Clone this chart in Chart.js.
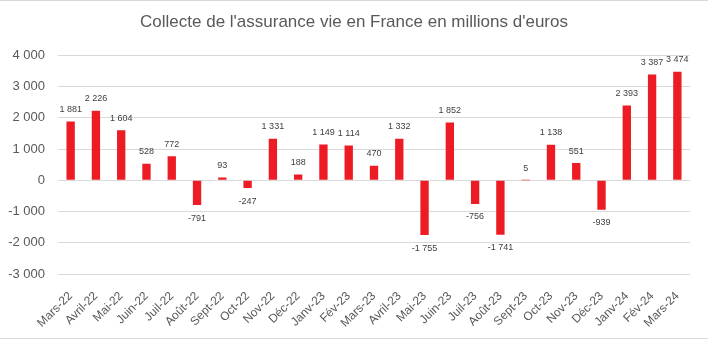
<!DOCTYPE html>
<html>
<head>
<meta charset="utf-8">
<script src="https://cdn.jsdelivr.net/npm/chart.js@4"></script>
<style>
  html, body { margin: 0; padding: 0; background: #fff; }
  #wrap { width: 708px; height: 339px; box-sizing: border-box; border-top: 1px solid #d9d9d9; border-bottom: 1px solid #d9d9d9; }
  canvas { display: block; }
</style>
</head>
<body>
<div id="wrap"><canvas id="barChart" width="708" height="337"></canvas></div>
<script>
// mois
const months = ['Mars-22', 'Avril-22', 'Mai-22', 'Juin-22', 'Juil-22', 'Août-22', 'Sept-22', 'Oct-22',
    'Nov-22', 'Déc-22', 'Janv-23', 'Fév-23', 'Mars-23', 'Avril-23', 'Mai-23', 'Juin-23', 'Juil-23',
    'Août-23', 'Sept-23', 'Oct-23', 'Nov-23', 'Déc-23', 'Janv-24', 'Fév-24', 'Mars-24'];
// collecte nette (millions d'euros)
const collecte = [1881, 2226, 1604, 528, 772, -791, 93, -247, 1331, 188, 1149, 1114, 470, 1332,
    -1755, 1852, -756, -1741, 5, 1138, 551, -939, 2393, 3387, 3474];
const yTicks = [-3000, -2000, -1000, 0, 1000, 2000, 3000, 4000];

const fmt = v => {
    const s = Math.abs(v).toString().replace(/\B(?=(\d{3})+(?!\d))/g, ' ');
    return (v < 0 ? '-' : '') + s;
};

// étiquettes de valeurs au-dessus / en dessous des barres
const valueLabels = {
    id: 'valueLabels',
    afterDatasetsDraw(chart) {
        const ctx = chart.ctx;
        const meta = chart.getDatasetMeta(0);
        ctx.save();
        ctx.font = '9px "Liberation Sans", sans-serif';
        ctx.fillStyle = '#404040';
        ctx.textAlign = 'center';
        ctx.textBaseline = 'middle';
        meta.data.forEach((bar, i) => {
            const v = collecte[i];
            const y = v >= 0 ? bar.y - 12 : bar.y + 13;
            ctx.fillText(fmt(v), bar.x, y);
        });
        ctx.restore();
    }
};

// titre centré sur toute la largeur du canvas
const centerTitle = {
    id: 'centerTitle',
    afterLayout(chart) {
        if (chart.titleBlock) {
            chart.titleBlock.left = 0;
            chart.titleBlock.right = chart.width;
        }
    }
};

new Chart(document.getElementById('barChart'), {
    type: 'bar',
    data: {
        labels: months,
        datasets: [{
            data: collecte,
            backgroundColor: '#ED1C24',
            borderWidth: 0,
            barPercentage: 0.33,
            categoryPercentage: 1
        }]
    },
    options: {
        responsive: false,
        animation: false,
        layout: { padding: { left: 0, right: 18, top: 0, bottom: 0 } },
        plugins: {
            legend: { display: false },
            tooltip: { enabled: false },
            title: {
                display: true,
                text: "Collecte de l'assurance vie en France en millions d'euros",
                color: '#595959',
                font: { family: '"Liberation Sans", sans-serif', size: 17, weight: 'normal' },
                padding: { top: 11, bottom: 23 }
            }
        },
        scales: {
            x: {
                grid: { display: false },
                border: { display: false },
                ticks: {
                    color: '#595959',
                    font: { family: '"Liberation Sans", sans-serif', size: 12 },
                    minRotation: 45,
                    maxRotation: 45,
                    autoSkip: false,
                    padding: 7
                },
                afterFit: scale => { scale.height = 64; }
            },
            y: {
                min: -3000,
                max: 4000,
                afterBuildTicks: scale => { scale.ticks = yTicks.map(v => ({ value: v })); },
                grid: { color: '#d9d9d9', lineWidth: 1, drawTicks: false },
                border: { display: false },
                ticks: {
                    color: '#595959',
                    font: { family: '"Liberation Sans", sans-serif', size: 13 },
                    padding: 13,
                    callback: v => fmt(v)
                },
                afterFit: scale => { scale.width = 58; }
            }
        }
    },
    plugins: [valueLabels, centerTitle]
});
</script>
</body>
</html>
